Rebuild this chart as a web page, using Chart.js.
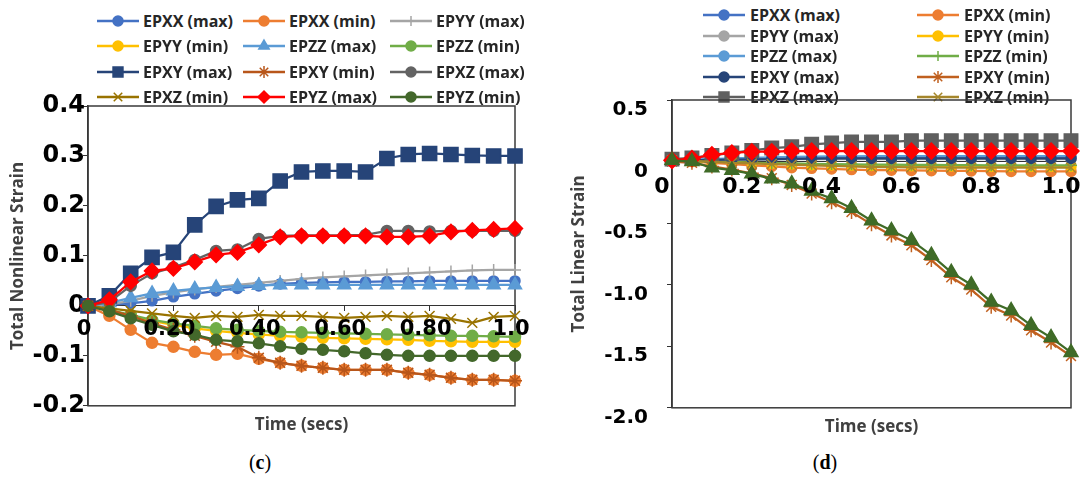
<!DOCTYPE html>
<html>
<head>
<meta charset="utf-8">
<script src="https://cdn.jsdelivr.net/npm/chart.js"></script>
<style>
  html, body { margin: 0; padding: 0; background: #fff; }
  #page { position: relative; width: 1082px; height: 479px; overflow: hidden; background: #fff; }
  .chart { position: absolute; top: 0; z-index: 1; }
  #chartC { left: 0; }
  #chartD { left: 541px; }
  .legend { position: absolute; display: grid; z-index: 0;
    font-family: "Open Sans", sans-serif; font-weight: 700; font-size: 16px; color: #262626; }
  .legend .item { display: flex; align-items: center; white-space: nowrap; }
  .legend canvas { margin-right: 4px; }
  #legendC { left: 97px; top: 8px; grid-template-columns: 146px 147px 147px; grid-auto-rows: 25.5px; }
  #legendD { left: 703px; top: 5px; grid-template-columns: 214px 214px; grid-auto-rows: 20.5px; }
  #legendD .item canvas { margin-right: 5px; }
  .caption { position: absolute; top: 450px; line-height: 24px; transform: translateX(-50%);
    font-family: "Liberation Serif", serif; font-size: 20px; color: #000; }
  .caption b { font-weight: 700; }
</style>
</head>
<body>
<div id="page">
  <div id="legendC" class="legend"></div>
  <div id="legendD" class="legend"></div>
  <canvas id="chartC" class="chart" width="541" height="479"></canvas>
  <canvas id="chartD" class="chart" width="541" height="479"></canvas>
  <div class="caption" style="left:260px">(<b>c</b>)</div>
  <div class="caption" style="left:825px">(<b>d</b>)</div>
</div>
<script>
// time steps (secs)
const times = [0, 0.05, 0.1, 0.15, 0.2, 0.25, 0.3, 0.35, 0.4, 0.45, 0.5, 0.55, 0.6, 0.65, 0.7, 0.75, 0.8, 0.85, 0.9, 0.95, 1.0];

// (c) total nonlinear strain
const cEpxxMax = [0, 0.002, 0.005, 0.01, 0.018, 0.024, 0.03, 0.035, 0.04, 0.044, 0.046, 0.047, 0.048, 0.048, 0.049, 0.049, 0.05, 0.05, 0.05, 0.05, 0.05];
const cEpxxMin = [0, -0.02, -0.048, -0.074, -0.082, -0.092, -0.098, -0.096, -0.106, -0.114, -0.12, -0.124, -0.128, -0.128, -0.128, -0.134, -0.138, -0.144, -0.148, -0.148, -0.15];
const cEpyyMax = [0, 0.003, 0.01, 0.02, 0.027, 0.033, 0.038, 0.042, 0.046, 0.05, 0.054, 0.057, 0.059, 0.061, 0.063, 0.065, 0.067, 0.069, 0.071, 0.072, 0.072];
const cEpyyMin = [0, -0.01, -0.02, -0.03, -0.038, -0.045, -0.05, -0.054, -0.057, -0.06, -0.062, -0.064, -0.065, -0.066, -0.067, -0.068, -0.07, -0.071, -0.072, -0.072, -0.072];
const cEpzzMax = [0, 0.006, 0.016, 0.025, 0.03, 0.034, 0.037, 0.039, 0.041, 0.042, 0.042, 0.042, 0.042, 0.042, 0.042, 0.042, 0.042, 0.042, 0.042, 0.042, 0.042];
const cEpzzMin = [0, -0.008, -0.018, -0.028, -0.035, -0.04, -0.045, -0.048, -0.05, -0.052, -0.053, -0.054, -0.055, -0.056, -0.057, -0.058, -0.059, -0.06, -0.06, -0.061, -0.062];
const cEpxyMax = [0, 0.02, 0.065, 0.097, 0.107, 0.162, 0.199, 0.212, 0.215, 0.25, 0.268, 0.27, 0.27, 0.268, 0.295, 0.303, 0.305, 0.303, 0.301, 0.3, 0.3];
const cEpxyMin = [0, -0.008, -0.02, -0.035, -0.048, -0.06, -0.072, -0.082, -0.104, -0.114, -0.12, -0.124, -0.128, -0.128, -0.128, -0.134, -0.138, -0.144, -0.148, -0.148, -0.15];
const cEpxzMax = [0, 0.008, 0.04, 0.065, 0.077, 0.092, 0.11, 0.113, 0.134, 0.14, 0.141, 0.141, 0.141, 0.142, 0.15, 0.15, 0.149, 0.15, 0.15, 0.15, 0.15];
const cEpxzMin = [0, -0.005, -0.01, -0.015, -0.02, -0.024, -0.02, -0.022, -0.018, -0.02, -0.02, -0.022, -0.024, -0.022, -0.02, -0.022, -0.02, -0.026, -0.034, -0.022, -0.02];
const cEpyzMax = [0, 0.012, 0.048, 0.07, 0.075, 0.088, 0.102, 0.107, 0.122, 0.138, 0.14, 0.14, 0.14, 0.14, 0.138, 0.138, 0.14, 0.148, 0.151, 0.153, 0.155];
const cEpyzMin = [0, -0.011, -0.025, -0.038, -0.051, -0.058, -0.068, -0.071, -0.075, -0.081, -0.086, -0.088, -0.091, -0.095, -0.098, -0.1, -0.1, -0.1, -0.1, -0.1, -0.1];

// (d) total linear strain
const dEpxxMax = [0.01, 0.012, 0.015, 0.018, 0.02, 0.022, 0.024, 0.026, 0.027, 0.028, 0.029, 0.03, 0.03, 0.03, 0.03, 0.03, 0.03, 0.03, 0.03, 0.03, 0.03];
const dEpxxMin = [0.01, 0, -0.01, -0.02, -0.03, -0.04, -0.05, -0.055, -0.06, -0.065, -0.07, -0.07, -0.072, -0.074, -0.075, -0.076, -0.078, -0.08, -0.08, -0.08, -0.08];
const dEpyyMax = [0.01, 0.01, 0.012, 0.014, 0.016, 0.018, 0.02, 0.02, 0.02, 0.02, 0.02, 0.02, 0.02, 0.02, 0.02, 0.02, 0.02, 0.02, 0.02, 0.02, 0.02];
const dEpyyMin = [0.01, 0.005, 0, -0.005, -0.01, -0.015, -0.02, -0.025, -0.028, -0.03, -0.032, -0.034, -0.035, -0.036, -0.037, -0.038, -0.04, -0.04, -0.04, -0.04, -0.04];
const dEpzzMax = [0.01, 0.015, 0.02, 0.025, 0.03, 0.035, 0.038, 0.04, 0.042, 0.043, 0.044, 0.045, 0.045, 0.045, 0.045, 0.045, 0.045, 0.045, 0.045, 0.045, 0.045];
const dEpzzMin = [0.01, 0.005, 0, -0.005, -0.01, -0.012, -0.015, -0.018, -0.02, -0.022, -0.024, -0.025, -0.026, -0.027, -0.028, -0.029, -0.03, -0.03, -0.03, -0.03, -0.03];
const dEpxyMax = [0.01, 0.012, 0.014, 0.016, 0.018, 0.02, 0.022, 0.024, 0.025, 0.025, 0.025, 0.025, 0.025, 0.025, 0.025, 0.025, 0.025, 0.025, 0.025, 0.025, 0.025];
const dEpxyMin = [0, -0.01, -0.04, -0.065, -0.095, -0.135, -0.19, -0.26, -0.33, -0.41, -0.51, -0.6, -0.68, -0.8, -0.94, -1.04, -1.18, -1.25, -1.37, -1.47, -1.58];
const dEpxzMax = [0.02, 0.03, 0.05, 0.07, 0.09, 0.11, 0.12, 0.14, 0.15, 0.16, 0.16, 0.16, 0.17, 0.17, 0.17, 0.17, 0.17, 0.17, 0.17, 0.17, 0.17];
const dEpxzMin = [0.01, 0.005, 0, -0.01, -0.015, -0.02, -0.025, -0.03, -0.035, -0.04, -0.045, -0.045, -0.047, -0.048, -0.049, -0.05, -0.05, -0.05, -0.05, -0.05, -0.05];
const dEpyzMax = [0.01, 0.025, 0.055, 0.07, 0.08, 0.08, 0.085, 0.085, 0.085, 0.085, 0.085, 0.085, 0.085, 0.085, 0.085, 0.085, 0.085, 0.085, 0.085, 0.085, 0.085];
const dEpyzMin = [0.01, 0, -0.05, -0.07, -0.1, -0.14, -0.18, -0.24, -0.3, -0.38, -0.48, -0.56, -0.64, -0.76, -0.9, -1.0, -1.14, -1.21, -1.33, -1.43, -1.55];

// tick labels
const cXTickLabels = ['0', '0.20', '0.40', '0.60', '0.80', '1.0'];
const cYTickLabels = ['-0.2', '-0.1', '0', '0.1', '0.2', '0.3', '0.4'];
const dXTickLabels = ['0', '0.2', '0.4', '0.6', '0.8', '1.0'];
const dYTickLabels = ['-2.0', '-1.5', '-1.0', '-0.5', '0', '0.5'];

// series look: name, values, colour, marker
const cSeries = [
  { name: 'EPXX (max)', data: cEpxxMax, color: '#4472C4', style: 'circle', r: 5, lr: 5 },
  { name: 'EPXX (min)', data: cEpxxMin, color: '#ED7D31', style: 'circle', r: 5.5, lr: 5 },
  { name: 'EPYY (max)', data: cEpyyMax, color: '#A5A5A5', style: 'cross', r: 6, lr: 5 },
  { name: 'EPYY (min)', data: cEpyyMin, color: '#FFC000', style: 'circle', r: 5.5, lr: 5 },
  { name: 'EPZZ (max)', data: cEpzzMax, color: '#5B9BD5', style: 'triangle', r: 7.5, lr: 6 },
  { name: 'EPZZ (min)', data: cEpzzMin, color: '#70AD47', style: 'circle', r: 5.5, lr: 5 },
  { name: 'EPXY (max)', data: cEpxyMax, color: '#264478', style: 'rect', r: 10, lr: 7 },
  { name: 'EPXY (min)', data: cEpxyMin, color: '#B8561A', style: 'star', r: 7, lr: 6 },
  { name: 'EPXZ (max)', data: cEpxzMax, color: '#636363', style: 'circle', r: 5.5, lr: 5 },
  { name: 'EPXZ (min)', data: cEpxzMin, color: '#997300', style: 'crossRot', r: 7, lr: 6 },
  { name: 'EPYZ (max)', data: cEpyzMax, color: '#FF0000', style: 'rectRot', r: 7.5, lr: 6 },
  { name: 'EPYZ (min)', data: cEpyzMin, color: '#43682B', style: 'circle', r: 5.5, lr: 5 }
];

const dSeries = [
  { name: 'EPXX (max)', data: dEpxxMax, color: '#4472C4', style: 'circle', r: 5, lr: 5 },
  { name: 'EPXX (min)', data: dEpxxMin, color: '#ED7D31', style: 'circle', r: 5, lr: 5 },
  { name: 'EPYY (max)', data: dEpyyMax, color: '#A5A5A5', style: 'circle', r: 5, lr: 5 },
  { name: 'EPYY (min)', data: dEpyyMin, color: '#FFC000', style: 'circle', r: 5, lr: 5 },
  { name: 'EPZZ (max)', data: dEpzzMax, color: '#5B9BD5', style: 'circle', r: 5, lr: 5 },
  { name: 'EPZZ (min)', data: dEpzzMin, color: '#70AD47', style: 'cross', r: 6, lr: 5 },
  { name: 'EPXY (max)', data: dEpxyMax, color: '#264478', style: 'circle', r: 5, lr: 5 },
  { name: 'EPXY (min)', data: dEpxyMin, color: '#C0601F', style: 'star', r: 7, lr: 6 },
  { name: 'EPXZ (max)', data: dEpxzMax, color: '#5F5F5F', style: 'rect', r: 9.5, lr: 7 },
  { name: 'EPXZ (min)', data: dEpxzMin, color: '#A5862B', style: 'crossRot', r: 7, lr: 6 },
  { name: 'EPYZ (max)', data: dEpyzMax, color: '#FF0000', style: 'rectRot', r: 8, lr: 6, noLegend: true },
  { name: 'EPYZ (min)', data: dEpyzMin, color: '#3F6B27', style: 'triangle', r: 8, lr: 6, noLegend: true }
];

function toDatasets(series) {
  return series.map((s, i) => ({
    label: s.name,
    data: times.map((t, k) => ({ x: t, y: s.data[k] })),
    borderColor: s.color,
    backgroundColor: s.color,
    borderWidth: 2.25,
    tension: 0,
    pointStyle: s.style,
    pointRadius: s.r,
    pointBackgroundColor: s.color,
    pointBorderColor: s.color,
    pointBorderWidth: 1.5,
    order: series.length - i,
    clip: false
  }));
}

// box around the plot area
const framePlugin = {
  id: 'frame',
  beforeDatasetsDraw(chart, args, opts) {
    const { ctx, chartArea: a } = chart;
    ctx.save();
    ctx.strokeStyle = opts.color || '#333';
    ctx.lineWidth = opts.width || 1.5;
    ctx.strokeRect(a.left, a.top, a.right - a.left, a.bottom - a.top);
    ctx.restore();
  }
};

const tickFont = (size) => ({ family: 'DejaVu Sans', size: size, weight: 'bold' });
const titleFont = { family: 'Open Sans', size: 17, weight: 'bold' };

function makeChart(id, series, cfg) {
  return new Chart(document.getElementById(id), {
    type: 'line',
    data: { datasets: toDatasets(series) },
    plugins: [framePlugin],
    options: {
      responsive: false,
      animation: false,
      layout: { padding: cfg.padding },
      plugins: {
        legend: { display: false },
        tooltip: { enabled: false },
        frame: { color: '#3a3a3a', width: 1.5 },
        title: {
          display: true,
          text: 'Time (secs)',
          position: 'bottom',
          fullSize: false,
          color: '#404040',
          font: titleFont,
          padding: { top: 8.8, bottom: 0 }
        }
      },
      scales: {
        x: {
          type: 'linear',
          min: 0, max: 1,
          position: { y: 0 },
          afterFit(s) { s.height = 0; s.paddingLeft = 0; s.paddingRight = 0; },
          grid: { display: true, drawOnChartArea: false, tickLength: 5, color: '#333' },
          border: { display: true, color: '#333', width: 1 },
          ticks: {
            z: 1, // labels sit over the curves, as in the original
            stepSize: 0.2, autoSkip: false, maxRotation: 0,
            padding: cfg.xPad, labelOffset: cfg.xOffset,
            color: '#000', font: tickFont(cfg.xFont),
            callback: (v, i) => cfg.xLabels[i]
          }
        },
        y: {
          type: 'linear',
          min: cfg.yMin, max: cfg.yMax,
          afterFit(s) { s.width = cfg.yWidth; },
          grid: { display: true, drawOnChartArea: false, tickLength: 5, color: '#333' },
          border: { display: true, color: '#333', width: 1.5 },
          title: { display: true, text: cfg.yTitle, color: '#404040', font: titleFont, padding: { top: 4, bottom: 4 } },
          ticks: {
            stepSize: cfg.yStep, autoSkip: false,
            padding: cfg.yPad, labelOffset: cfg.yOffset,
            color: '#000', font: tickFont(cfg.yFont),
            callback: (v, i) => cfg.yLabels[i]
          }
        }
      }
    }
  });
}

makeChart('chartC', cSeries, {
  padding: { left: 4, top: 106, right: 26, bottom: 44 },
  yWidth: 84, yMin: -0.2, yMax: 0.4, yStep: 0.1,
  yLabels: cYTickLabels, xLabels: cXTickLabels,
  yTitle: 'Total Nonlinear Strain',
  yFont: 24, xFont: 21, yPad: -2, xPad: 6, yOffset: 0, xOffset: -4
});

makeChart('chartD', dSeries, {
  padding: { left: 24, top: 100, right: 9, bottom: 42 },
  yWidth: 107, yMin: -2, yMax: 0.5, yStep: 0.5,
  yLabels: dYTickLabels, xLabels: dXTickLabels,
  yTitle: 'Total Linear Strain',
  yFont: 20, xFont: 22, yPad: 19, xPad: 8, yOffset: 10, xOffset: -10
});

// html legends with the same markers
function buildLegend(boxId, series) {
  const box = document.getElementById(boxId);
  series.filter(s => !s.noLegend).forEach(s => {
    const item = document.createElement('div');
    item.className = 'item';
    const cv = document.createElement('canvas');
    cv.width = 42; cv.height = 16;
    const g = cv.getContext('2d');
    g.strokeStyle = s.color; g.fillStyle = s.color;
    g.lineWidth = 2.5;
    g.beginPath(); g.moveTo(0, 8); g.lineTo(42, 8); g.stroke();
    g.lineWidth = 1.5;
    if (Chart.helpers && Chart.helpers.drawPoint) {
      Chart.helpers.drawPoint(g, { pointStyle: s.style, radius: s.lr, rotation: 0, borderWidth: 1.5 }, 21, 8);
    } else {
      g.beginPath(); g.arc(21, 8, s.lr, 0, Math.PI * 2); g.fill();
    }
    const txt = document.createElement('span');
    txt.textContent = s.name;
    item.appendChild(cv);
    item.appendChild(txt);
    box.appendChild(item);
  });
}
buildLegend('legendC', cSeries);
buildLegend('legendD', dSeries);
</script>
</body>
</html>
